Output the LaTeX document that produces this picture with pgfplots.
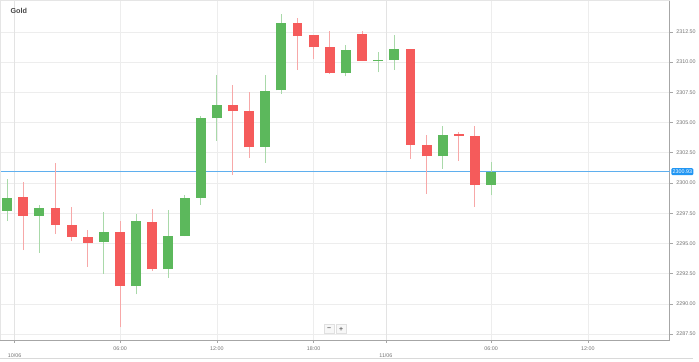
\documentclass[border=0pt]{standalone}
\usepackage{pgfplots}
\pgfplotsset{compat=1.18}
\usepackage{pgfplotstable}
\usepackage{fontspec}
\setmainfont{Liberation Sans}
\definecolor{cgreen}{HTML}{5CB85C}
\definecolor{cred}{HTML}{F55B5B}
\definecolor{gwick}{HTML}{A9D9A9}
\definecolor{rwick}{HTML}{F7A8A8}
\definecolor{pblue}{RGB}{95,175,238}
\definecolor{lblue}{HTML}{2196F3}

\pgfplotstableread{
i O H L C
0 2297.72 2300.34 2296.84 2298.76
2 2297.29 2298.21 2294.22 2297.89
6 2295.12 2297.56 2292.48 2295.92
8 2291.47 2297.45 2290.78 2296.84
10 2292.86 2297.75 2292.15 2295.61
11 2295.61 2299.03 2295.59 2298.79
12 2298.76 2305.53 2298.16 2305.34
13 2305.34 2308.95 2303.48 2306.47
16 2302.99 2308.95 2301.66 2307.64
17 2307.66 2314.01 2307.39 2313.19
21 2309.06 2311.39 2308.81 2310.98
23 2310.07 2310.86 2309.14 2310.20
24 2310.20 2312.23 2309.36 2311.08
27 2302.20 2304.71 2301.16 2303.98
30 2299.85 2301.71 2298.98 2300.93
}\greentab

\pgfplotstableread{
i O H L C
1 2298.81 2300.07 2294.44 2297.29
3 2297.89 2301.66 2295.81 2296.55
4 2296.52 2298.02 2295.16 2295.57
5 2295.57 2296.08 2293.07 2295.07
7 2295.98 2296.84 2288.05 2291.47
9 2296.80 2297.83 2292.75 2292.86
14 2306.43 2308.13 2300.67 2305.94
15 2305.94 2307.56 2302.09 2302.94
18 2313.19 2313.68 2309.36 2312.15
19 2312.20 2312.23 2310.24 2311.22
20 2311.22 2312.53 2309.03 2309.06
22 2312.31 2312.53 2310.07 2310.07
25 2311.06 2311.06 2301.98 2303.16
26 2303.16 2303.98 2299.09 2302.20
28 2304.03 2304.25 2301.80 2303.89
29 2303.87 2304.71 2298.02 2299.85
}\redtab

\begin{document}
\begin{tikzpicture}
\begin{axis}[
  scale only axis, width=675.5pt, height=342.7pt,
  xmin=-0.41, xmax=41.08, ymin=2287.01, ymax=2315.10,
  axis x line*=bottom, axis y line*=right,
  axis line style={draw=black!35, line width=0.8pt},
  xtick={7,13,19,30,36}, xticklabels={06:00,12:00,18:00,06:00,12:00},
  extra x ticks={0.47,23.48}, extra x tick labels={10/06,11/06},
  extra x tick style={grid=major, major grid style={draw=black!11, line width=0.6pt}, tick label style={yshift=-7.6pt}},
  ytick={2287.5,2290,2292.5,2295,2297.5,2300,2302.5,2305,2307.5,2310,2312.5},
  yticklabel style={/pgf/number format/.cd, fixed, fixed zerofill, precision=2, 1000 sep={}},
  /pgf/number format/assume math mode=true,
  grid=major, major grid style={draw=black!7, line width=0.6pt},
  tick style={draw=black!35, line width=0.6pt}, major tick length=3pt, tick align=outside,
  ticklabel style={font=\fontsize{5.4}{6}\selectfont, text=black!55},
  clip=false,
  candle/.style={draw=none, no markers, forget plot,
    error bars/y dir=plus, error bars/y explicit, error bars/error mark=none},
]
% current price line
\addplot[draw=pblue, color=pblue, line width=1pt, no markers, forget plot] coordinates {(-0.41,2300.93) (41.08,2300.93)};
% wicks
\addplot[candle, error bars/error bar style={draw=gwick, line width=1pt, solid}]
  table[x=i, y=L, y error plus expr=\thisrow{H}-\thisrow{L}] {\greentab};
\addplot[candle, error bars/error bar style={draw=rwick, line width=1pt, solid}]
  table[x=i, y=L, y error plus expr=\thisrow{H}-\thisrow{L}] {\redtab};
% bodies
\addplot[candle, error bars/error bar style={draw=cgreen, line width=10pt, solid}]
  table[x=i, y expr={min(\thisrow{O},\thisrow{C})}, y error plus expr={max(abs(\thisrow{C}-\thisrow{O}),0.12)}] {\greentab};
\addplot[candle, error bars/error bar style={draw=cred, line width=10pt, solid}]
  table[x=i, y expr={min(\thisrow{O},\thisrow{C})}, y error plus expr={max(abs(\thisrow{C}-\thisrow{O}),0.12)}] {\redtab};
% title
\node[anchor=west, font=\fontsize{7.3}{8}\selectfont\bfseries, text=black!72, inner sep=0pt]
  at ([xshift=10pt, yshift=-11pt]rel axis cs:0,1) {Gold};
% price label
\node[fill=lblue, text=white, rounded corners=1.2pt, inner xsep=1.4pt, inner ysep=1.6pt,
  font=\fontsize{5.4}{6}\selectfont, anchor=west]
  at ([xshift=1.2pt]axis cs:41.08,2300.93) {2300.93};
% zoom buttons
\node[draw=black!12, fill=black!3, minimum width=10pt, minimum height=9pt, inner sep=0pt,
  font=\fontsize{7}{7}\selectfont\bfseries, text=black!60]
  at ([xshift=-6pt, yshift=11pt]rel axis cs:0.5,0) {\char"2212};
\node[draw=black!12, fill=black!3, minimum width=10pt, minimum height=9pt, inner sep=0pt,
  font=\fontsize{7}{7}\selectfont\bfseries, text=black!60]
  at ([xshift=6pt, yshift=11pt]rel axis cs:0.5,0) {+};
\end{axis}
% frame
\draw[black!10, line width=0.6pt] (current axis.south west) -- (current axis.north west) -- (current axis.north east);
\path (current axis.south west) ++(0,-19.3pt) coordinate (bl);
\path (current axis.north east) ++(23.5pt,0) coordinate (tr);
\path (bl) rectangle (tr);
\draw[black!15, line width=0.8pt] ([yshift=0.4pt]bl) -- ([yshift=0.4pt]bl -| tr);
\end{tikzpicture}
\end{document}
